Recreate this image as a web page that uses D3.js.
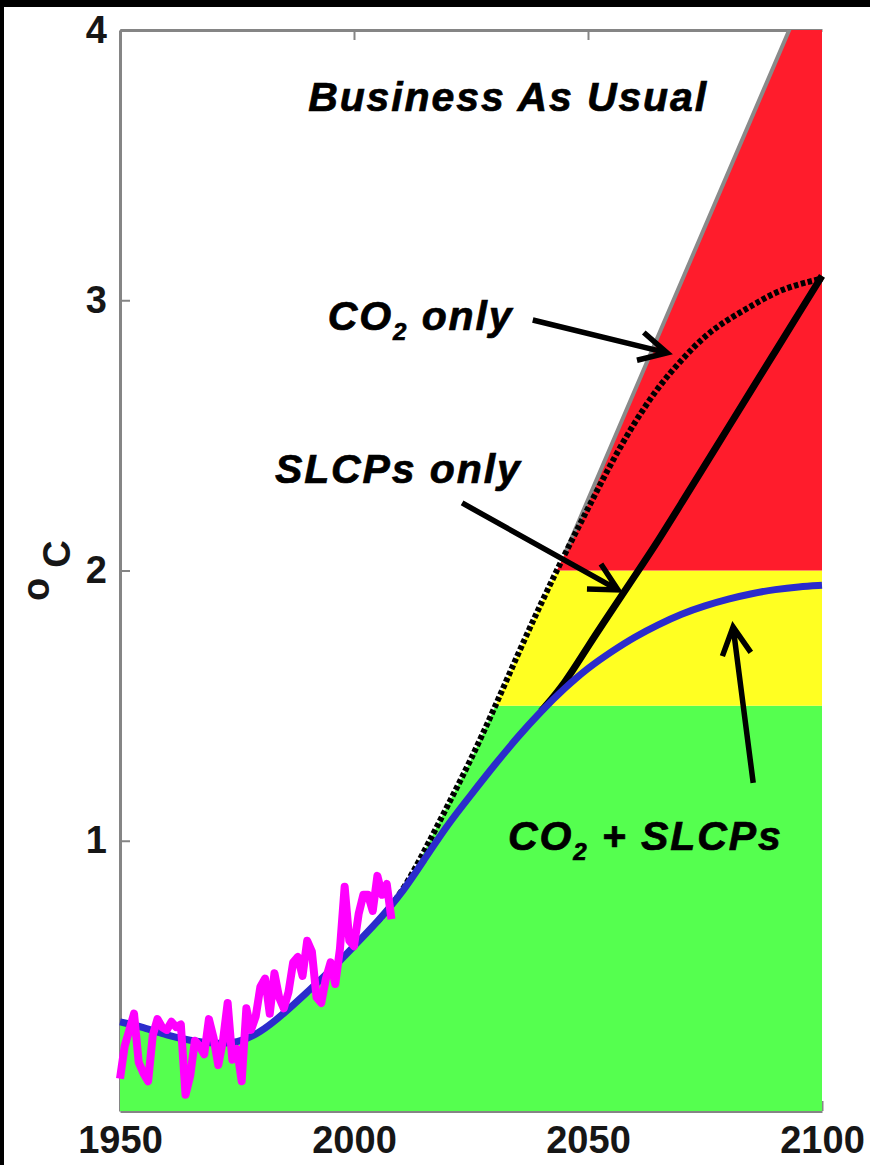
<!DOCTYPE html>
<html>
<head>
<meta charset="utf-8">
<script src="https://cdn.jsdelivr.net/npm/d3@7"></script>
<style>
html, body { margin: 0; padding: 0; background: #000; }
svg { display: block; }
</style>
</head>
<body>
<div id="chart"></div>
<script>
const width = 870, height = 1165;

// observed annual temperature (magenta)
const obsYears = [1950, 1951, 1952, 1953, 1954, 1955, 1956, 1957, 1958, 1959,
    1960, 1961, 1962, 1963, 1964, 1965, 1966, 1967, 1968, 1969,
    1970, 1971, 1972, 1973, 1974, 1975, 1976, 1977, 1978, 1979,
    1980, 1981, 1982, 1983, 1984, 1985, 1986, 1987, 1988, 1989,
    1990, 1991, 1992, 1993, 1994, 1995, 1996, 1997, 1998, 1999,
    2000, 2001, 2002, 2003, 2004, 2005, 2006, 2007, 2008];
const obsValues = [0.12, 0.24, 0.30, 0.36, 0.18, 0.14, 0.11, 0.28, 0.34, 0.31,
    0.30, 0.33, 0.31, 0.32, 0.06, 0.13, 0.26, 0.24, 0.21, 0.34,
    0.27, 0.17, 0.26, 0.40, 0.19, 0.23, 0.11, 0.38, 0.30, 0.35,
    0.46, 0.49, 0.36, 0.51, 0.42, 0.38, 0.44, 0.55, 0.57, 0.50,
    0.63, 0.59, 0.42, 0.40, 0.49, 0.55, 0.47, 0.60, 0.83, 0.63,
    0.61, 0.73, 0.80, 0.80, 0.74, 0.87, 0.80, 0.84, 0.71];

// CO2 + SLCPs (blue)
const bothYears = [1950, 1955, 1960, 1965, 1970, 1975, 1980, 1985, 1990, 1995, 2000, 2005, 2010,
    2015, 2020, 2025, 2030, 2035, 2040, 2045, 2050, 2055, 2060, 2065, 2070, 2075, 2080, 2085, 2090, 2095, 2100];
const bothValues = [0.33, 0.31, 0.28, 0.26, 0.25, 0.25, 0.29, 0.36, 0.44, 0.52, 0.61, 0.70, 0.80,
    0.93, 1.06, 1.17, 1.28, 1.385, 1.48, 1.565, 1.64, 1.70, 1.755, 1.80, 1.84, 1.87, 1.895, 1.915, 1.93, 1.94, 1.945];

// CO2 only (dotted black)
const co2Years = [2005, 2010, 2015, 2020, 2025, 2030, 2035, 2040, 2045, 2050, 2055, 2060, 2065, 2070, 2075, 2080, 2085, 2090, 2095, 2100];
const co2Values = [0.70, 0.80, 0.96, 1.13, 1.30, 1.49, 1.69, 1.88, 2.06, 2.23, 2.40, 2.55, 2.68, 2.78, 2.87, 2.93, 2.98, 3.03, 3.06, 3.08];

// SLCPs only (solid black)
const slcpYears = [2040, 2045, 2050, 2055, 2060, 2065, 2070, 2075, 2080, 2085, 2090, 2095, 2100];
const slcpValues = [1.48, 1.58, 1.72, 1.85, 1.98, 2.11, 2.25, 2.39, 2.53, 2.67, 2.81, 2.95, 3.09];

// business as usual: upper edge of the coloured area
const bauYears = [1950, 1955, 1960, 1965, 1970, 1975, 1980, 1985, 1990, 1995, 2000, 2005, 2010,
    2015, 2020, 2025, 2030, 2035, 2040, 2045, 2093, 2100];
const bauValues = [0.33, 0.31, 0.28, 0.26, 0.25, 0.25, 0.29, 0.36, 0.44, 0.52, 0.61, 0.70, 0.80,
    0.96, 1.13, 1.30, 1.49, 1.69, 1.88, 2.06, 4.0, 4.29];

// warming bands
const bandLows = [0, 1.5, 2];
const bandHighs = [1.5, 2, 4];
const bandColors = ['#55ff4f', '#ffff22', '#ff1c2c'];

const xTicks = [1950, 2000, 2050, 2100];
const yTicks = [1, 2, 3, 4];

const zip = (xs, vs) => xs.map((yr, i) => ({ yr, v: vs[i] }));

const x = d3.scaleLinear().domain([1950, 2100]).range([120, 822]);
const y = d3.scaleLinear().domain([0, 4]).range([1111, 30]);

const svg = d3.select('#chart').append('svg')
    .attr('width', width).attr('height', height);

svg.append('rect').attr('x', 4).attr('y', 7)
    .attr('width', width - 4).attr('height', height - 7).attr('fill', '#fff');

const fontFam = '"Liberation Sans", Arial, Helvetica, sans-serif';

// axes (drawn under the fills, like the original)
const styleAxis = g => {
    g.select('.domain').attr('stroke', '#858585').attr('stroke-width', 3);
    g.selectAll('.tick line').attr('stroke', '#858585').attr('stroke-width', 2);
    g.selectAll('.tick text')
        .attr('fill', '#161616')
        .style('font-family', fontFam)
        .style('font-size', '38px')
        .style('font-weight', 'bold');
};

svg.append('g').attr('transform', `translate(${x(1950)},0)`)
    .call(d3.axisLeft(y).tickValues(yTicks).tickSize(-10).tickSizeOuter(0).tickPadding(13).tickFormat(d3.format('d')))
    .call(styleAxis);

svg.append('g').attr('transform', `translate(0,${y(4)})`)
    .call(d3.axisTop(x).tickValues([2000, 2050]).tickSize(-10).tickSizeOuter(0).tickFormat(''))
    .call(styleAxis);

svg.append('g').attr('transform', `translate(0,${y(0)})`)
    .call(d3.axisBottom(x).tickValues(xTicks).tickSize(-10).tickSizeOuter(0).tickPadding(15).tickFormat(d3.format('d')))
    .call(styleAxis);

// y label: degrees C
svg.append('text')
    .attr('transform', 'translate(70,601) rotate(-90)')
    .style('font-family', fontFam).style('font-size', '38px').style('font-weight', 'bold')
    .attr('fill', '#161616')
    .call(t => {
        t.append('tspan').attr('dy', -21).text('o');
        t.append('tspan').attr('dy', 21).attr('dx', 10).text('C');
    });

// coloured bands under the BAU envelope
const defs = svg.append('defs');
bandLows.forEach((lo, i) => {
    defs.append('clipPath').attr('id', 'band' + i)
        .append('rect')
        .attr('x', x(1950)).attr('width', x(2100) - x(1950))
        .attr('y', y(bandHighs[i])).attr('height', y(lo) - y(bandHighs[i]));
});
defs.append('clipPath').attr('id', 'plot')
    .append('rect')
    .attr('x', x(1950)).attr('width', x(2100) - x(1950))
    .attr('y', y(4)).attr('height', y(0) - y(4));

const bau = zip(bauYears, bauValues);
const area = d3.area().x(d => x(d.yr)).y0(y(0)).y1(d => y(d.v));

svg.append('g').selectAll('path')
    .data(bandColors)
    .join('path')
    .attr('d', area(bau))
    .attr('fill', d => d)
    .attr('clip-path', (d, i) => `url(#band${i})`);

const smooth = d3.line().x(d => x(d.yr)).y(d => y(d.v)).curve(d3.curveBasis);
const straight = d3.line().x(d => x(d.yr)).y(d => y(d.v));

// BAU grey edge
svg.append('path')
    .attr('d', straight(bau.filter(d => d.yr >= 2045)))
    .attr('fill', 'none').attr('stroke', '#8a8a8a').attr('stroke-width', 4)
    .attr('clip-path', 'url(#plot)');

// CO2 only
svg.append('path')
    .attr('d', smooth(zip(co2Years, co2Values)))
    .attr('fill', 'none').attr('stroke', '#000').attr('stroke-width', 6)
    .attr('stroke-dasharray', '4.5,2.5');

// SLCPs only
svg.append('path')
    .attr('d', smooth(zip(slcpYears, slcpValues)))
    .attr('fill', 'none').attr('stroke', '#000').attr('stroke-width', 7);

// CO2 + SLCPs
svg.append('path')
    .attr('d', smooth(zip(bothYears, bothValues)))
    .attr('fill', 'none').attr('stroke', '#2b2bcc').attr('stroke-width', 7);

// observations
svg.append('path')
    .attr('d', straight(zip(obsYears, obsValues)))
    .attr('fill', 'none').attr('stroke', '#ff00ff').attr('stroke-width', 8)
    .attr('stroke-linejoin', 'round');

// annotations
const note = (yr, v, parts) => {
    const t = svg.append('text')
        .attr('x', x(yr)).attr('y', y(v))
        .attr('fill', '#000').attr('stroke', '#000').attr('stroke-width', 0.7)
        .style('font-family', fontFam).style('font-size', '41px')
        .style('font-weight', 'bold').style('font-style', 'italic')
        .style('letter-spacing', '1.9px');
    parts.forEach(p => {
        const s = t.append('tspan').text(p.s);
        if (p.sub) s.attr('dy', 10).style('font-size', '24px');
        if (p.back) s.attr('dy', -10);
    });
};

note(1990.2, 3.70, [{ s: 'Business As Usual' }]);
note(1994.4, 2.89, [{ s: 'CO' }, { s: '2', sub: true }, { s: ' only', back: true }]);
note(1983.1, 2.324, [{ s: 'SLCPs only' }]);
note(2032.9, 0.966, [{ s: 'CO' }, { s: '2', sub: true }, { s: ' + SLCPs', back: true }]);

const arrow = (yr0, v0, yr1, v1) => {
    const x0 = x(yr0), y0 = y(v0), x1 = x(yr1), y1 = y(v1);
    const a = Math.atan2(y1 - y0, x1 - x0), L = 31, w = 0.48;
    const b1 = [x1 - L * Math.cos(a - w), y1 - L * Math.sin(a - w)];
    const b2 = [x1 - L * Math.cos(a + w), y1 - L * Math.sin(a + w)];
    svg.append('path')
        .attr('d', `M${x0},${y0}L${x1},${y1}M${b1}L${x1},${y1}L${b2}`)
        .attr('fill', 'none').attr('stroke', '#000').attr('stroke-width', 5.5)
        .attr('stroke-linejoin', 'miter');
};

arrow(2038.2, 2.927, 2066.9, 2.805);
arrow(2023.1, 2.250, 2056.4, 1.928);
arrow(2085.3, 1.214, 2081.0, 1.791);
</script>
</body>
</html>
